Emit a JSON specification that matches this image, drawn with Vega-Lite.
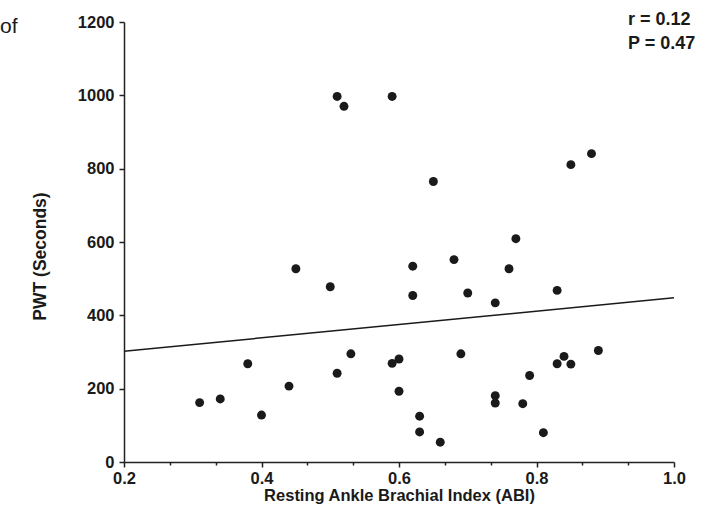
{
  "$schema": "https://vega.github.io/schema/vega-lite/v6.json",
  "width": 550,
  "height": 440,
  "autosize": {"type": "none"},
  "padding": {"left": 124, "top": 22, "right": 27, "bottom": 57},
  "background": "white",
  "config": {
    "view": {"stroke": null},
    "font": "Liberation Sans",
    "axis": {
      "grid": false,
      "domainColor": "#222222",
      "domainWidth": 1.5,
      "tickColor": "#222222",
      "tickWidth": 1.5,
      "labelFont": "Liberation Sans",
      "labelFontWeight": "bold",
      "labelFontSize": 16.5,
      "labelColor": "#1a1a1a",
      "titleFont": "Liberation Sans",
      "titleFontWeight": "bold",
      "titleFontSize": 16.5,
      "titleColor": "#1a1a1a"
    }
  },
  "datasets": {
    "pts": [
      {"abi": 0.31, "pwt": 162}, {"abi": 0.34, "pwt": 172}, {"abi": 0.38, "pwt": 268},
      {"abi": 0.40, "pwt": 128}, {"abi": 0.44, "pwt": 207}, {"abi": 0.45, "pwt": 527},
      {"abi": 0.50, "pwt": 478}, {"abi": 0.51, "pwt": 997}, {"abi": 0.51, "pwt": 242},
      {"abi": 0.52, "pwt": 970}, {"abi": 0.53, "pwt": 295}, {"abi": 0.59, "pwt": 997},
      {"abi": 0.59, "pwt": 269}, {"abi": 0.60, "pwt": 281}, {"abi": 0.60, "pwt": 193},
      {"abi": 0.62, "pwt": 534}, {"abi": 0.62, "pwt": 454}, {"abi": 0.63, "pwt": 125},
      {"abi": 0.63, "pwt": 82}, {"abi": 0.65, "pwt": 765}, {"abi": 0.66, "pwt": 54},
      {"abi": 0.68, "pwt": 552}, {"abi": 0.69, "pwt": 295}, {"abi": 0.70, "pwt": 461},
      {"abi": 0.74, "pwt": 434}, {"abi": 0.74, "pwt": 181}, {"abi": 0.74, "pwt": 161},
      {"abi": 0.76, "pwt": 527}, {"abi": 0.77, "pwt": 609}, {"abi": 0.78, "pwt": 159},
      {"abi": 0.79, "pwt": 236}, {"abi": 0.81, "pwt": 80}, {"abi": 0.83, "pwt": 468},
      {"abi": 0.83, "pwt": 268}, {"abi": 0.84, "pwt": 288}, {"abi": 0.85, "pwt": 267},
      {"abi": 0.85, "pwt": 811}, {"abi": 0.88, "pwt": 841}, {"abi": 0.89, "pwt": 304}
    ],
    "fit": [
      {"abi": 0.2, "pwt": 302},
      {"abi": 1.0, "pwt": 448}
    ],
    "r": [{"label": "r = 0.12"}],
    "p": [{"label": "P = 0.47"}],
    "cut": [{"label": "of"}]
  },
  "layer": [
    {
      "data": {"name": "pts"},
      "mark": {"type": "point", "filled": true, "shape": "circle", "size": 80, "color": "#1a1a1a", "opacity": 1},
      "encoding": {
        "x": {
          "field": "abi",
          "type": "quantitative",
          "scale": {"domain": [0.2, 1.0], "nice": false, "zero": false},
          "axis": {
            "title": "Resting Ankle Brachial Index (ABI)",
            "values": [0.2, 0.26667, 0.33333, 0.4, 0.46667, 0.53333, 0.6, 0.66667, 0.73333, 0.8, 0.86667, 0.93333, 1.0],
            "labelExpr": "abs(datum.value*5 - round(datum.value*5)) < 0.01 ? format(datum.value, '.1f') : ''",
            "tickSize": {"condition": {"test": "abs(datum.value*5 - round(datum.value*5)) < 0.01", "value": 5}, "value": 3},
            "labelPadding": 3,
            "labelFlush": false,
            "labelOverlap": false,
            "titleBaseline": "middle",
            "titleY": 33
          }
        },
        "y": {
          "field": "pwt",
          "type": "quantitative",
          "scale": {"domain": [0, 1200], "nice": false},
          "axis": {
            "title": "PWT (Seconds)",
            "titleFontSize": 17.5,
            "values": [0, 100, 200, 300, 400, 500, 600, 700, 800, 900, 1000, 1100, 1200],
            "labelExpr": "datum.value % 200 == 0 ? datum.value : ''",
            "tickSize": {"condition": {"test": "datum.value % 200 == 0", "value": 5}, "value": 3},
            "labelPadding": 5,
            "labelFlush": false,
            "labelOverlap": false,
            "titleX": -84,
            "titleY": 234,
            "titleAlign": "center",
            "titleBaseline": "middle"
          }
        }
      }
    },
    {
      "data": {"name": "fit"},
      "mark": {"type": "line", "color": "#1a1a1a", "strokeWidth": 1.5},
      "encoding": {
        "x": {"field": "abi", "type": "quantitative"},
        "y": {"field": "pwt", "type": "quantitative"}
      }
    },
    {
      "data": {"name": "r"},
      "mark": {"type": "text", "align": "left", "baseline": "middle", "fontWeight": "bold", "fontSize": 18, "color": "#1a1a1a", "dx": -46, "dy": -2},
      "encoding": {
        "x": {"datum": 1.0, "type": "quantitative"},
        "y": {"datum": 1200, "type": "quantitative"},
        "text": {"field": "label"}
      }
    },
    {
      "data": {"name": "p"},
      "mark": {"type": "text", "align": "left", "baseline": "middle", "fontWeight": "bold", "fontSize": 18, "color": "#1a1a1a", "dx": -46, "dy": 22},
      "encoding": {
        "x": {"datum": 1.0, "type": "quantitative"},
        "y": {"datum": 1200, "type": "quantitative"},
        "text": {"field": "label"}
      }
    },
    {
      "data": {"name": "cut"},
      "mark": {"type": "text", "align": "left", "baseline": "alphabetic", "fontSize": 21, "color": "#1a1a1a", "dx": -124, "dy": 11},
      "encoding": {
        "x": {"datum": 0.2, "type": "quantitative"},
        "y": {"datum": 1200, "type": "quantitative"},
        "text": {"field": "label"}
      }
    }
  ]
}
